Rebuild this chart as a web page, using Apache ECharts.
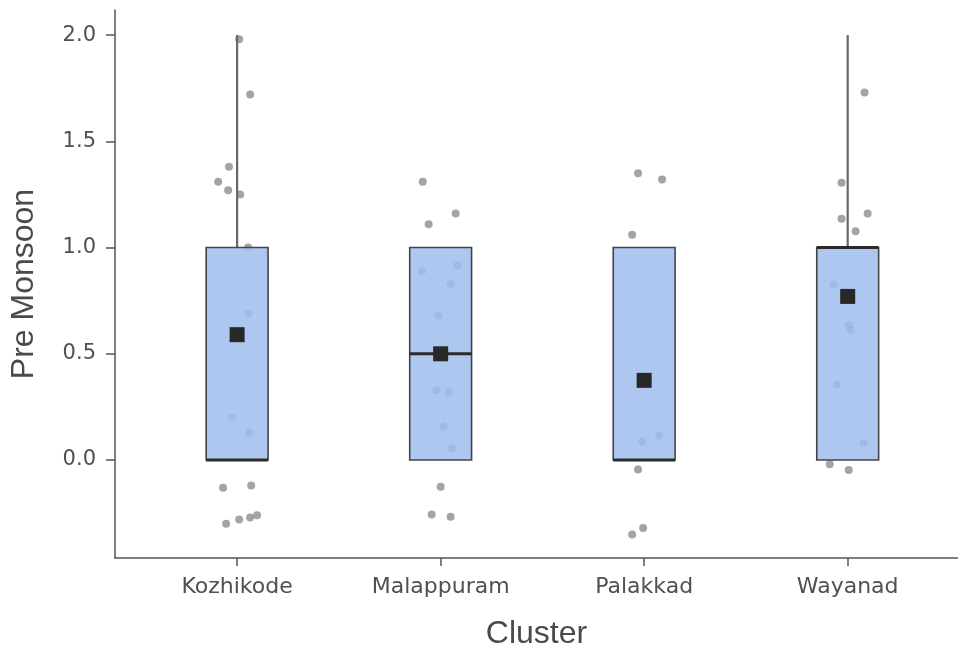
<!DOCTYPE html>
<html>
<head>
<meta charset="utf-8">
<script src="https://cdn.jsdelivr.net/npm/echarts@6/dist/echarts.min.js"></script>
<style>html,body{margin:0;padding:0;background:#fff}#c{width:958px;height:655px}</style>
</head>
<body>
<div id="c"></div>
<script>
const categories = ['Kozhikode', 'Malappuram', 'Palakkad', 'Wayanad'];
const whiskerLow = [0, 0, 0, 0];
const q1 = [0, 0, 0, 0];
const median = [0, 0.5, 0, 1];
const q3 = [1, 1, 1, 1];
const whiskerHigh = [2, 1, 1, 2];
const means = [0.59, 0.50, 0.375, 0.77];
const yTicks = [0, 0.5, 1.0, 1.5, 2.0];

// jittered observations (x in category units, y values)
const pointX = [
  1.01, 1.064, 0.96, 0.907, 0.956, 1.015, 1.054, 1.054, 0.975, 1.059, 0.931, 1.069, 0.946, 1.01, 1.064, 1.098,
  1.912, 2.074, 1.941, 1.907, 2.083, 2.049, 1.99, 1.98, 2.039, 2.015, 2.054, 2.0, 1.956, 2.049,
  2.97, 3.088, 2.941, 2.99, 3.074, 2.97, 2.941, 2.995,
  4.083, 3.97, 4.098, 3.97, 4.039, 3.931, 4.005, 4.015, 3.946, 4.078, 3.912, 4.005
];
const pointY = [
  1.98, 1.72, 1.38, 1.31, 1.27, 1.25, 1.0, 0.69, 0.20, 0.13, -0.13, -0.12, -0.30, -0.28, -0.27, -0.26,
  1.31, 1.16, 1.11, 0.89, 0.915, 0.83, 0.68, 0.33, 0.32, 0.157, 0.055, -0.126, -0.256, -0.267,
  1.35, 1.32, 1.06, 0.086, 0.115, -0.044, -0.35, -0.32,
  1.73, 1.305, 1.16, 1.135, 1.077, 0.825, 0.637, 0.613, 0.354, 0.079, -0.02, -0.047
];

const catPos = categories.map((c, i) => i + 1);
const boxData = catPos.map((x, i) => [x, whiskerLow[i], q1[i], median[i], q3[i], whiskerHigh[i]]);
const meanData = catPos.map((x, i) => [x, means[i]]);
const pointData = pointX.map((x, i) => [x, pointY[i]]);

const TICKFONT = 'DejaVu Sans, Verdana, sans-serif';
const TITLEFONT = 'Liberation Sans, Arial, sans-serif';
const chart = echarts.init(document.getElementById('c'), null, {renderer: 'canvas'});
chart.setOption({
  animation: false,
  backgroundColor: '#ffffff',
  grid: {left: 113, right: 0, top: 10, bottom: 97, containLabel: false},
  xAxis: {
    type: 'value', min: 0.4, max: 4.542,
    name: 'Cluster', nameLocation: 'middle', nameGap: 60,
    nameTextStyle: {fontFamily: TITLEFONT, fontSize: 32, color: '#4a4a4a'},
    splitLine: {show: false},
    axisLine: {show: true, onZero: false, lineStyle: {color: '#555', width: 1.5}},
    axisTick: {show: true, length: 8, lineStyle: {color: '#555', width: 1.5}, customValues: catPos},
    axisLabel: {
      show: true, margin: 18, fontFamily: TICKFONT, fontSize: 22, color: '#505050',
      customValues: catPos,
      formatter: v => categories[Math.round(v) - 1] || ''
    }
  },
  yAxis: {
    type: 'value', min: -0.461, max: 2.118,
    name: 'Pre Monsoon', nameLocation: 'middle', nameGap: 75, nameRotate: 90,
    nameTextStyle: {fontFamily: TITLEFONT, fontSize: 32, color: '#4a4a4a'},
    splitLine: {show: false},
    axisLine: {show: true, onZero: false, lineStyle: {color: '#555', width: 1.5}},
    axisTick: {show: true, length: 9, lineStyle: {color: '#555', width: 1.5}, customValues: yTicks},
    axisLabel: {
      show: true, margin: 19, fontFamily: TICKFONT, fontSize: 21, color: '#505050',
      customValues: yTicks,
      formatter: v => v.toFixed(1)
    }
  },
  series: [
    {
      type: 'scatter', z: 1,
      data: pointData,
      symbol: 'circle', symbolSize: 8,
      itemStyle: {color: '#8a8a8a', opacity: 0.78},
      silent: true
    },
    {
      type: 'custom', z: 2,
      data: boxData,
      encode: {x: 0, y: [1, 2, 3, 4, 5]},
      renderItem: function (params, api) {
        const x = api.value(0);
        const lo = api.value(1), b = api.value(2), m = api.value(3), t = api.value(4), hi = api.value(5);
        const hw = api.size([0.152, 0])[0];
        const pLo = api.coord([x, lo]), pB = api.coord([x, b]), pM = api.coord([x, m]), pT = api.coord([x, t]), pHi = api.coord([x, hi]);
        const children = [];
        if (hi > t) children.push({type: 'line', shape: {x1: pT[0], y1: pT[1], x2: pHi[0], y2: pHi[1]}, style: {stroke: '#686868', lineWidth: 2.2}});
        if (lo < b) children.push({type: 'line', shape: {x1: pLo[0], y1: pLo[1], x2: pB[0], y2: pB[1]}, style: {stroke: '#686868', lineWidth: 2.2}});
        children.push({type: 'rect', shape: {x: pB[0] - hw, y: pT[1], width: hw * 2, height: pB[1] - pT[1]},
          style: {fill: 'rgba(160,190,238,0.86)', stroke: '#444', lineWidth: 1.6}});
        children.push({type: 'line', shape: {x1: pM[0] - hw, y1: pM[1], x2: pM[0] + hw, y2: pM[1]}, style: {stroke: '#2a2a2a', lineWidth: 3}});
        return {type: 'group', children: children};
      }
    },
    {
      type: 'scatter', z: 3,
      data: meanData,
      symbol: 'rect', symbolSize: 15,
      itemStyle: {color: '#282828', opacity: 1},
      silent: true
    }
  ]
});
</script>
</body>
</html>
